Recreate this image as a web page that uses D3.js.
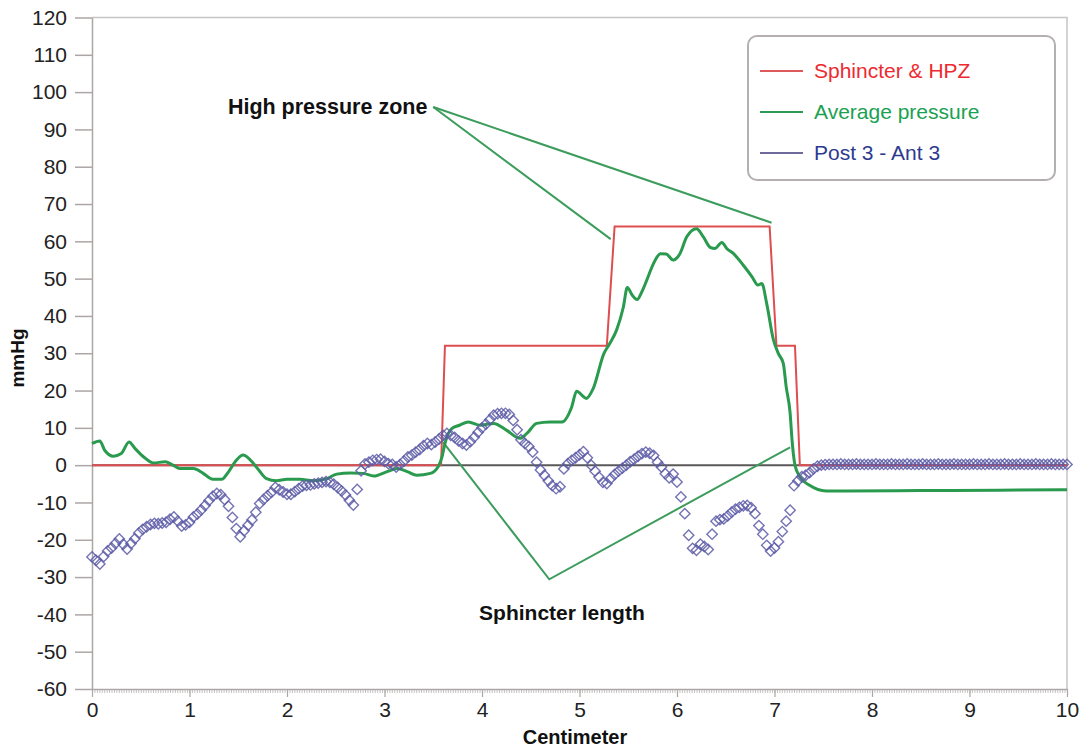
<!DOCTYPE html>
<html>
<head>
<meta charset="utf-8">
<script src="https://cdn.jsdelivr.net/npm/d3@7"></script>
<style>
  body { margin: 0; background: #fff; }
  text { font-family: Arial, "Liberation Sans", Helvetica, sans-serif; }
</style>
</head>
<body>
<div id="chart"></div>
<script>
// ---- data ----
// red step line: sphincter & high pressure zone
let sphincterX = [0, 3.58, 3.62, 5.28, 5.36, 6.95, 7.02, 7.21, 7.26, 10]
let sphincterY = [0, 0, 32, 32, 64, 64, 32, 32, 0, 0]

// green curve: average pressure
let avgX = [0, 0.08, 0.13, 0.22, 0.30, 0.38, 0.44, 0.53, 0.63, 0.75, 0.83, 0.90, 1.04, 1.14, 1.24, 1.33, 1.40, 1.48, 1.55, 1.62,
    1.71, 1.79, 1.89, 2.0, 2.13, 2.27, 2.41, 2.51, 2.65, 2.78, 2.89, 3.02, 3.13, 3.24, 3.33, 3.47, 3.55, 3.59, 3.62, 3.69,
    3.77, 3.86, 3.98, 4.12, 4.25, 4.39, 4.46, 4.56, 4.70, 4.82, 4.92, 4.97, 5.07, 5.14, 5.25, 5.31, 5.38, 5.45, 5.49, 5.54,
    5.59, 5.64, 5.69, 5.76, 5.83, 5.89, 5.96, 6.03, 6.10, 6.20, 6.27, 6.34, 6.39, 6.46, 6.51, 6.58, 6.68, 6.77, 6.83, 6.87,
    6.92, 6.99, 7.04, 7.09, 7.12, 7.16, 7.18, 7.21, 7.26, 7.36, 7.53, 7.74, 8.5, 9.3, 10]
let avgY = [5.8, 6.5, 4.0, 2.4, 3.1, 6.2, 4.5, 2.2, 0.6, 0.9, 0, -0.9, -0.9, -2.2, -3.8, -3.8, -1.8, 1.3, 2.7, 1.5,
    -1.3, -3.6, -4.2, -3.8, -3.8, -4.2, -3.6, -2.4, -2.1, -2.2, -2.9, -1.8, -0.9, -1.8, -2.7, -2.2, -0.4, 2.2, 5.8, 9.8,
    10.7, 11.6, 10.7, 11.2, 9.4, 7.2, 8.5, 11.2, 11.6, 11.6, 15.6, 19.8, 17.9, 20.5, 29.9, 32.6, 36.2, 42.4, 47.6, 45.6,
    44.4, 46.5, 49.6, 54.1, 56.7, 56.6, 55, 56.7, 61.2, 63.4, 61.2, 58.4, 58.1, 59.7, 58.1, 56.7, 53.6, 50.5, 48.3, 48.7,
    43.3, 33.5, 29.9, 27.3, 21, 14, 6.7, 0, -3.1, -5.4, -6.9, -6.9, -6.8, -6.7, -6.6]

// diamonds: Post 3 - Ant 3, one reading every 0.04 cm from 0 to 10
let postStep = 0.04
let postValues = [
    -24.6, -25.5, -26.5, -24.5, -23, -22.2, -21, -19.8, -21.2, -22.5, -21, -19.7, -18.2, -17.2, -16.5, -15.9, -15.6, -15.7, -15.5, -15.3, -14.5, -13.9, -15, -16.3, -16,
    -15.3, -13.9, -13.1, -12, -10.8, -9.5, -8.3, -7.6, -7.9, -9.2, -11, -14, -17, -19.2, -17.6, -16.1, -14.7, -12.6, -10.3, -9.2, -8.2, -7.3, -6, -6.6, -7.2,
    -7.8, -7.8, -7.1, -6.3, -5.6, -5.4, -5.3, -5, -4.8, -4.6, -4.4, -4.6, -5.1, -6, -6.9, -8, -9.4, -10.7, -6.5, -1.5, 0.3, 0.8, 1.3, 1.5, 1.6,
    1.0, 0.4, 0.2, -0.5, 0.2, 1.1, 2.2, 2.7, 3.5, 4.2, 5.2, 5.8, 5.5, 6.2, 7, 8, 8.5, 8, 7.4, 6.5, 5.8, 5.4, 6.3, 7.5, 8.8,
    10, 11, 12.2, 13.4, 13.8, 13.9, 13.9, 13.6, 12, 9.5, 6.8, 5.8, 5, 3.5, 0.8, -1.3, -2.7, -4.2, -5.5, -6.3, -5.8, -1, 0.4, 1.3, 2,
    2.8, 3.6, 2, 0, -1.6, -3.2, -4.6, -4.9, -3.6, -2.5, -1.6, -0.8, 0, 0.9, 1.6, 2.4, 3.1, 3.5, 3.2, 2.6, 0.8, -0.5, -2.3, -3.4, -2.4,
    -4.5, -8.5, -13, -18.8, -22.3, -22.8, -21.2, -21.8, -22.6, -18.5, -15, -14.6, -14.4, -13.6, -12.6, -11.8, -11.3, -10.9, -10.8, -11.4, -13, -16.2, -18.5, -21.5, -23,
    -22.2, -20.5, -17.8, -15, -12.1, -5.5, -4.2, -3.1, -2.7, -2, -1, -0.3, 0, 0.1, 0.2, 0.2, 0.2, 0.3, 0.2, 0.2, 0.2, 0.3, 0.2, 0.2, 0.2,
    0.2, 0.3, 0.2, 0.2, 0.2, 0.3, 0.2, 0.2, 0.2, 0.3, 0.2, 0.2, 0.2, 0.3, 0.2, 0.2, 0.2, 0.3, 0.2, 0.2, 0.2, 0.3, 0.2, 0.2, 0.2,
    0.2, 0.3, 0.2, 0.2, 0.2, 0.3, 0.2, 0.2, 0.2, 0.3, 0.2, 0.2, 0.2, 0.3, 0.2, 0.2, 0.2, 0.3, 0.2, 0.2, 0.2, 0.3, 0.2, 0.2, 0.2,
    0.2
]

// callout annotations (data units)
let hpzText = { label: "High pressure zone", x: 3.44, y: 96 }
let hpzLines = [[[3.50, 96], [5.32, 60.6]], [[3.50, 96], [6.97, 65]]]
let slText = { label: "Sphincter length", x: 4.82, y: -41.5 }
let slLine = [[3.60, 6.2], [4.69, -30.6], [7.16, 4.8]]

let legendNames = ["Sphincter & HPZ", "Average pressure", "Post 3 - Ant 3"]
let legendLineColors = ["#de5a5a", "#2e9a55", "#6f6a9c"]
let legendTextColors = ["#ed2a30", "#1aa152", "#2e3a8f"]

let xTicks = [0, 1, 2, 3, 4, 5, 6, 7, 8, 9, 10]
let yTicks = [-60, -50, -40, -30, -20, -10, 0, 10, 20, 30, 40, 50, 60, 70, 80, 90, 100, 110, 120]

// ---- layout ----
var W = 1084, H = 749
var plotL = 92, plotR = 1067, plotT = 17.5, plotB = 689

var svg = d3.select("#chart").append("svg")
    .attr("width", W)
    .attr("height", H)

var x = d3.scaleLinear().domain([0, 10]).range([plotL, plotR])
var y = d3.scaleLinear().domain([-60, 120]).range([plotB, plotT])

var axisGrey = "#aca6a6"

// plot frame (top + right)
svg.append("path")
    .attr("d", `M${plotL},${plotT}H${plotR}V${plotB}`)
    .attr("fill", "none")
    .attr("stroke", "#c8c4c4")
    .attr("stroke-width", 1.5)

// minor x ticks
var minorTicks = d3.range(0, 10.0001, 0.025)
svg.append("g")
    .attr("transform", `translate(0,${plotB})`)
    .call(d3.axisBottom(x).tickValues(minorTicks).tickSize(4).tickFormat(""))
    .call(g => g.select(".domain").remove())
    .call(g => g.selectAll("line").attr("stroke", "#b8b2b2").attr("stroke-width", 0.8))

// x axis
svg.append("g")
    .attr("transform", `translate(0,${plotB})`)
    .call(d3.axisBottom(x).tickValues(xTicks).tickSize(8).tickSizeOuter(0).tickPadding(5).tickFormat(d => String(d)))
    .call(g => g.select(".domain").attr("stroke", axisGrey).attr("stroke-width", 1.5))
    .call(g => g.selectAll("line").attr("stroke", axisGrey).attr("stroke-width", 1.2))
    .call(g => g.selectAll("text").attr("font-size", 21).attr("fill", "#222"))

// y axis
svg.append("g")
    .attr("transform", `translate(${plotL},0)`)
    .call(d3.axisLeft(y).tickValues(yTicks).tickSize(17).tickSizeOuter(0).tickPadding(8).tickFormat(d => String(d)))
    .call(g => g.select(".domain").attr("stroke", axisGrey).attr("stroke-width", 1.5))
    .call(g => g.selectAll("line").attr("stroke", axisGrey).attr("stroke-width", 1.5))
    .call(g => g.selectAll("text").attr("font-size", 21).attr("fill", "#222"))

// axis titles
svg.append("text")
    .attr("x", 575)
    .attr("y", 744)
    .attr("text-anchor", "middle")
    .attr("font-size", 20)
    .attr("font-weight", "bold")
    .attr("fill", "#111")
    .text("Centimeter")

svg.append("text")
    .attr("transform", "translate(24,358) rotate(-90)")
    .attr("text-anchor", "middle")
    .attr("font-size", 19)
    .attr("font-weight", "bold")
    .attr("fill", "#111")
    .text("mmHg")

// zero line
svg.append("line")
    .attr("x1", x(0)).attr("x2", x(10))
    .attr("y1", y(0)).attr("y2", y(0))
    .attr("stroke", "#5a5858")
    .attr("stroke-width", 2)

// red step line
var sphincter = sphincterX.map((v, i) => [v, sphincterY[i]])
svg.append("path")
    .datum(sphincter)
    .attr("fill", "none")
    .attr("stroke", "#de4e50")
    .attr("stroke-width", 2)
    .attr("d", d3.line().x(d => x(d[0])).y(d => y(d[1])))

// annotation lines
var annoLine = d3.line().x(d => x(d[0])).y(d => y(d[1]))
hpzLines.forEach(seg => {
    svg.append("path")
        .datum(seg)
        .attr("fill", "none")
        .attr("stroke", "#3c9c5c")
        .attr("stroke-width", 2)
        .attr("d", annoLine)
})
svg.append("path")
    .datum(slLine)
    .attr("fill", "none")
    .attr("stroke", "#3c9c5c")
    .attr("stroke-width", 2)
    .attr("d", annoLine)

// average pressure
var avg = avgX.map((v, i) => [v, avgY[i]])
svg.append("path")
    .datum(avg)
    .attr("fill", "none")
    .attr("stroke", "#2a9a4e")
    .attr("stroke-width", 3)
    .attr("stroke-linejoin", "round")
    .attr("d", d3.line().curve(d3.curveMonotoneX).x(d => x(d[0])).y(d => y(d[1])))

// post 3 - ant 3 diamonds
var diamond = d3.symbol().type(d3.symbolSquare).size(54)
svg.append("g")
    .selectAll("path")
    .data(postValues)
    .enter()
    .append("path")
    .attr("d", diamond)
    .attr("transform", (d, i) => `translate(${x(i * postStep)},${y(d)}) rotate(45)`)
    .attr("fill", "none")
    .attr("stroke", "#5c5aa6")
    .attr("stroke-opacity", 0.85)
    .attr("stroke-width", 1.4)

// callout labels
svg.append("text")
    .attr("x", x(hpzText.x))
    .attr("y", y(hpzText.y) + 7)
    .attr("text-anchor", "end")
    .attr("font-size", 21.5)
    .attr("font-weight", "bold")
    .attr("fill", "#111")
    .text(hpzText.label)

svg.append("text")
    .attr("x", x(slText.x))
    .attr("y", y(slText.y))
    .attr("text-anchor", "middle")
    .attr("font-size", 21)
    .attr("font-weight", "bold")
    .attr("fill", "#111")
    .text(slText.label)

// legend
var legend = svg.append("g").attr("transform", "translate(748,36)")
legend.append("rect")
    .attr("width", 307).attr("height", 144)
    .attr("rx", 9)
    .attr("fill", "#fff")
    .attr("stroke", "#b4b0b0")
    .attr("stroke-width", 2)

legendNames.forEach((name, i) => {
    var ly = 35 + i * 41
    legend.append("line")
        .attr("x1", 12).attr("x2", 55)
        .attr("y1", ly).attr("y2", ly)
        .attr("stroke", legendLineColors[i])
        .attr("stroke-width", 2)
    legend.append("text")
        .attr("x", 66)
        .attr("y", ly + 7)
        .attr("font-size", 21)
        .attr("fill", legendTextColors[i])
        .text(name)
})
</script>
</body>
</html>
